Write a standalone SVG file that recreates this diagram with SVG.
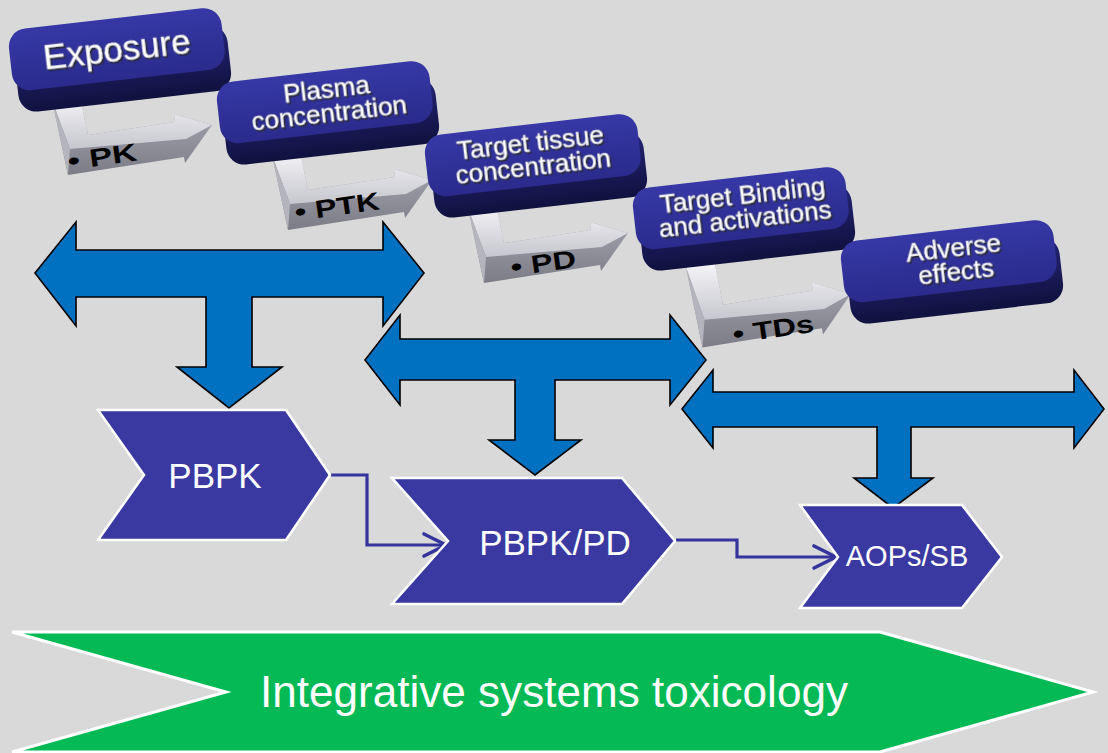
<svg xmlns="http://www.w3.org/2000/svg" width="1108" height="753" viewBox="0 0 1108 753">
<defs>
<style>
.tarrow{fill:#0070c0;stroke:#000;stroke-width:1.6;stroke-linejoin:miter}
.chev{fill:#3a39a1;stroke:#fff;stroke-width:2.5;stroke-linejoin:miter}
.chevtxt{fill:#fff;font-family:"Liberation Sans",Arial,sans-serif;text-anchor:middle}
.boxtxt{fill:#fff;font-family:"Liberation Sans",Arial,sans-serif;font-size:26px;text-anchor:middle;stroke:#c8c8d0;stroke-width:0.4;filter:url(#ts)}
.lbl{fill:#000;font-family:"Liberation Sans",Arial,sans-serif;font-weight:bold;font-size:25px}
.conn{fill:none;stroke:#34349c;stroke-width:3.2;stroke-linejoin:miter}
</style>
<filter id="ts" x="-10%" y="-30%" width="120%" height="160%">
<feDropShadow dx="1.5" dy="1.8" stdDeviation="0.6" flood-color="#2a2a2a" flood-opacity="0.9"/>
</filter>
<linearGradient id="boxTop" x1="0" y1="0" x2="0" y2="1">
<stop offset="0" stop-color="#3638a6"/>
<stop offset="1" stop-color="#2a2b8c"/>
</linearGradient>
<linearGradient id="boxSide" x1="0" y1="0" x2="0" y2="1">
<stop offset="0" stop-color="#25267a"/>
<stop offset="1" stop-color="#10113e"/>
</linearGradient>
<linearGradient id="grayTop" x1="0" y1="0" x2="0" y2="1">
<stop offset="0" stop-color="#f4f4f8"/>
<stop offset="1" stop-color="#c6c6ce"/>
</linearGradient>
<linearGradient id="grayFront" x1="0" y1="0" x2="0" y2="1">
<stop offset="0" stop-color="#adadb6"/>
<stop offset="1" stop-color="#7c7c87"/>
</linearGradient>
<g id="boxshape">
<rect x="-104" y="-24" width="214" height="66" rx="18" fill="url(#boxSide)"/>
<rect x="-108" y="-42" width="214" height="62" rx="18" fill="url(#boxTop)"/>
</g>
<g id="bent">
<path d="M0,3 L28,0 L36,38 L123,25 L122,17 L160,28 L133,66 L132,60 L16,78 Z" fill="url(#grayFront)"/>
<path d="M0,3 L28,0 L36,38 L123,25 L122,17 L160,28 L134,42 L18,52 Z" fill="url(#grayTop)"/>
<path d="M0,3 L18,52 L16,78 Z" fill="#b4b4bd"/>
</g>
<marker id="open" markerUnits="userSpaceOnUse" markerWidth="30" markerHeight="30" viewBox="0 0 30 28" refX="25" refY="14" orient="auto">
<path d="M3,3 L25,14 L3,25" fill="none" stroke="#34349c" stroke-width="3.6" stroke-linecap="round" stroke-linejoin="round"/>
</marker>
</defs>

<rect x="0" y="0" width="1108" height="753" fill="#d9d9d9"/>

<!-- gray bent arrows with labels -->
<g id="arrow-pk">
<use href="#bent" transform="translate(52,97)"/>
<text class="lbl" transform="translate(69,170) rotate(-8) scale(1.38,1)">• PK</text>
</g>
<g id="arrow-ptk">
<use href="#bent" transform="translate(272,152)"/>
<text class="lbl" transform="translate(296,221) rotate(-8) scale(1.3,1)">• PTK</text>
</g>
<g id="arrow-pd">
<use href="#bent" transform="translate(468,205)"/>
<text class="lbl" transform="translate(512,276) rotate(-8) scale(1.3,1)">• PD</text>
</g>
<g id="arrow-tds">
<use href="#bent" transform="translate(686,264) scale(1.03,1.07)"/>
<text class="lbl" transform="translate(734,343) rotate(-8) scale(1.3,1)">• TDs</text>
</g>

<!-- 3D boxes -->
<g id="box-exposure" transform="translate(119,60) rotate(-6.5)">
<use href="#boxshape"/>
<text class="boxtxt" x="-1" y="1" style="font-size:35px">Exposure</text>
</g>
<g id="box-plasma" transform="translate(327,113) rotate(-6.5)">
<use href="#boxshape"/>
<text class="boxtxt" x="2" y="-15">Plasma</text>
<text class="boxtxt" x="2" y="9">concentration</text>
</g>
<g id="box-tissue" transform="translate(535,166) rotate(-6.5)">
<use href="#boxshape"/>
<text class="boxtxt" x="-2" y="-15">Target tissue</text>
<text class="boxtxt" x="-2" y="9">concentration</text>
</g>
<g id="box-binding" transform="translate(743,219) rotate(-6.5)">
<use href="#boxshape"/>
<text class="boxtxt" x="2" y="-15">Target Binding</text>
<text class="boxtxt" x="2" y="9">and activations</text>
</g>
<g id="box-adverse" transform="translate(951,272) rotate(-6.5)">
<use href="#boxshape"/>
<text class="boxtxt" x="5" y="-15">Adverse</text>
<text class="boxtxt" x="5" y="9">effects</text>
</g>

<!-- blue T arrows -->
<g id="t-arrow-1">
<polygon class="tarrow" points="35,273 76,222 76,250 383,250 383,222 424,273 383,326 383,297 252,297 252,367 282,367 229,408 177,367 206,367 206,297 76,297 76,326"/>
</g>
<g id="t-arrow-2">
<polygon class="tarrow" points="365,360 400,315 400,339 670,339 670,315 706,360 670,405 670,380 555,380 555,440 581,440 535,475 489,440 515,440 515,380 400,380 400,405"/>
</g>
<g id="t-arrow-3">
<polygon class="tarrow" points="682,409 713,370 713,392 1074,392 1074,370 1104,409 1074,448 1074,427 911,427 911,478 933,478 893,508 854,478 877,478 877,427 713,427 713,448"/>
</g>

<!-- connectors -->
<g id="connectors">
<polyline class="conn" points="331,475 367,475 367,545 446,545" marker-end="url(#open)"/>
<polyline class="conn" points="676,540 737,540 737,557 836,557" marker-end="url(#open)"/>
</g>

<!-- chevrons -->
<g id="node-pbpk">
<polygon class="chev" points="98,410 286,410 330,475 286,540 98,540 144,475"/>
<text class="chevtxt" x="215" y="488" style="font-size:35px">PBPK</text>
</g>
<g id="node-pbpkpd">
<polygon class="chev" points="392,478 622,478 675,541 622,604 392,604 448,541"/>
<text class="chevtxt" x="555" y="555" style="font-size:35px">PBPK/PD</text>
</g>
<g id="node-aops">
<polygon class="chev" points="800,505 962,505 1002,557 962,608 800,608 838,557"/>
<text class="chevtxt" x="907" y="566" style="font-size:29px">AOPs/SB</text>
</g>

<g id="node-integrative">
<polygon points="12,632 880,632 1093,692 880,752 12,752 226,692" fill="#05b955" stroke="#fff" stroke-width="3"/>
<text x="554" y="707" fill="#fff" font-family="Liberation Sans, Arial, sans-serif" font-size="44" text-anchor="middle" textLength="588" lengthAdjust="spacingAndGlyphs">Integrative systems toxicology</text>
</g>
</svg>
